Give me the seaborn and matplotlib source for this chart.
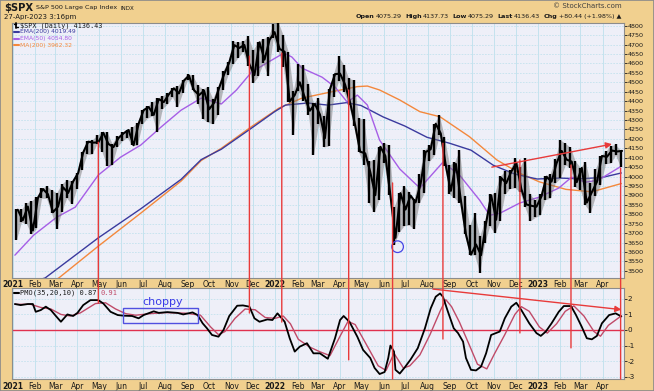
import numpy as np
import pandas as pd
import matplotlib
matplotlib.use("Agg")
import matplotlib.pyplot as plt
import matplotlib.dates as mdates
from matplotlib.patches import Rectangle, ConnectionPatch
import seaborn as sns

# ---------------- data ----------------
# weekly S&P 500 bars (week ending Fridays, 2021-01-08 .. 2023-04-28)
week_start = "2021-01-08"
close = [3824, 3768, 3841, 3714, 3886, 3934, 3906, 3811, 3841, 3943, 3913, 3974, 4019, 4128, 4185, 4180,
         4181, 4232, 4173, 4156, 4204, 4229, 4247, 4166, 4280, 4352, 4369, 4327, 4411, 4395, 4436, 4468,
         4441, 4509, 4535, 4458, 4432, 4455, 4357, 4391, 4471, 4544, 4605, 4697, 4682, 4698, 4595, 4538,
         4712, 4620, 4725, 4766,
         4677, 4662, 4398, 4432, 4500, 4419, 4349, 4385, 4329, 4204, 4463, 4543, 4546, 4488, 4392, 4272,
         4132, 4123, 4024, 3901, 4158, 4109, 3901, 3675, 3912, 3825, 3899, 3863, 3962, 4130, 4145, 4280,
         4228, 4058, 3924, 4067, 3873, 3693, 3586, 3640, 3583, 3753, 3901, 3771, 3993, 3965, 4026, 4072,
         3934, 3852, 3845, 3840,
         3895, 3999, 3973, 4071, 4136, 4090, 4079, 3970, 4046, 3862, 3917, 3971, 4109, 4105, 4138, 4133, 4136]
high = [3827, 3826, 3861, 3870, 3894, 3937, 3950, 3929, 3914, 3960, 3983, 3978, 4021, 4129, 4191, 4194,
        4218, 4238, 4238, 4175, 4213, 4234, 4249, 4262, 4286, 4355, 4372, 4393, 4415, 4429, 4441, 4470,
        4480, 4513, 4546, 4537, 4484, 4465, 4476, 4413, 4475, 4559, 4608, 4718, 4712, 4717, 4744, 4672,
        4713, 4731, 4741, 4808,
        4819, 4749, 4662, 4454, 4595, 4590, 4489, 4390, 4416, 4320, 4466, 4546, 4637, 4594, 4521, 4513,
        4308, 4307, 4081, 4090, 4158, 4178, 4168, 3838, 3913, 3950, 3918, 3880, 4013, 4140, 4167, 4280,
        4325, 4211, 4062, 4076, 4140, 3899, 3741, 3806, 3685, 3762, 3905, 3912, 4001, 4028, 4034, 4100,
        4052, 4101, 3906, 3878,
        3906, 4003, 4015, 4095, 4195, 4176, 4156, 4082, 4048, 4079, 3964, 4039, 4110, 4133, 4164, 4170, 4138]
low = [3663, 3758, 3750, 3694, 3725, 3885, 3884, 3805, 3723, 3812, 3886, 3853, 3935, 4034, 4118, 4118,
       4174, 4132, 4057, 4061, 4156, 4188, 4206, 4165, 4165, 4278, 4309, 4322, 4234, 4360, 4385, 4422,
       4367, 4443, 4513, 4457, 4385, 4306, 4288, 4279, 4329, 4459, 4537, 4595, 4630, 4663, 4585, 4495,
       4531, 4600, 4531, 4733,
       4662, 4582, 4396, 4222, 4453, 4402, 4327, 4115, 4279, 4157, 4161, 4424, 4507, 4450, 4381, 4267,
       4129, 4062, 3859, 3810, 3875, 4074, 3900, 3637, 3705, 3739, 3742, 3722, 3860, 3913, 4080, 4113,
       4218, 4057, 3906, 3886, 3861, 3693, 3584, 3584, 3491, 3647, 3738, 3698, 3764, 3906, 3936, 3940,
       3918, 3838, 3764, 3783,
       3794, 3877, 3885, 3965, 3990, 4061, 4047, 3943, 3928, 3847, 3809, 3896, 3955, 4068, 4071, 4114, 4049]

ema200_dates = ["2021-01-04", "2021-02-15", "2021-04-30", "2021-06-28", "2021-08-23", "2021-09-20",
                "2021-10-18", "2021-11-29", "2021-12-31", "2022-01-15", "2022-02-15", "2022-03-15",
                "2022-04-10", "2022-04-30", "2022-05-31", "2022-06-30", "2022-07-31", "2022-08-31",
                "2022-09-30", "2022-10-31", "2022-11-30", "2022-12-31", "2023-01-31", "2023-02-28",
                "2023-03-31", "2023-04-27"]
ema200_vals = [3415, 3462, 3675, 3829, 3985, 4090, 4145, 4257, 4344, 4379, 4390, 4379,
               4392, 4377, 4316, 4268, 4208, 4177, 4140, 4060, 4013, 3987, 3992, 3988, 3995, 4019]

ema50_dates = ["2021-01-04", "2021-01-30", "2021-03-03", "2021-03-29", "2021-04-30", "2021-05-31",
               "2021-06-28", "2021-07-26", "2021-08-23", "2021-09-20", "2021-10-18", "2021-11-08",
               "2021-11-29", "2021-12-20", "2022-01-13", "2022-01-24", "2022-02-07", "2022-03-07",
               "2022-03-25", "2022-04-11", "2022-04-25", "2022-05-09", "2022-05-26", "2022-06-23",
               "2022-07-21", "2022-08-22", "2022-09-14", "2022-10-12", "2022-10-26", "2022-11-09",
               "2022-12-07", "2023-01-03", "2023-01-30", "2023-02-17", "2023-03-08", "2023-03-26",
               "2023-04-27"]
ema50_vals = [3583, 3689, 3784, 3838, 4008, 4103, 4167, 4262, 4352, 4416, 4385, 4459,
              4554, 4602, 4655, 4634, 4575, 4527, 4475, 4395, 4432, 4379, 4193, 4040,
              3939, 4076, 4008, 3875, 3795, 3805, 3860, 3891, 3939, 3997, 3970, 3981, 4055]

ma200_dates = ["2021-01-04", "2021-03-06", "2021-04-30", "2021-06-28", "2021-08-23", "2021-09-20",
               "2021-10-18", "2021-11-29", "2022-01-06", "2022-02-07", "2022-03-21", "2022-04-25",
               "2022-05-09", "2022-05-26", "2022-06-23", "2022-07-21", "2022-08-18", "2022-09-28",
               "2022-11-05", "2022-12-07", "2023-01-03", "2023-02-09", "2023-03-17", "2023-04-27"]
ma200_vals = [3330, 3462, 3631, 3806, 3976, 4085, 4150, 4265, 4363, 4416, 4450, 4477,
              4480, 4459, 4406, 4344, 4317, 4211, 4088, 4017, 3972, 3932, 3919, 3963]

pmo_dates = ["2021-01-04", "2021-01-12", "2021-01-22", "2021-01-29", "2021-02-02", "2021-02-09",
             "2021-02-16", "2021-02-23", "2021-03-02", "2021-03-09", "2021-03-18", "2021-03-26",
             "2021-04-01", "2021-04-09", "2021-04-19", "2021-04-30", "2021-05-07", "2021-05-17",
             "2021-05-27", "2021-06-04", "2021-06-16", "2021-06-25", "2021-07-02", "2021-07-16",
             "2021-07-23", "2021-08-04", "2021-08-18", "2021-08-26", "2021-09-08", "2021-09-15",
             "2021-09-22", "2021-09-28", "2021-10-05", "2021-10-14", "2021-10-21", "2021-10-29",
             "2021-11-09", "2021-11-17", "2021-11-26", "2021-12-03", "2021-12-10", "2021-12-21",
             "2021-12-28", "2022-01-04", "2022-01-10", "2022-01-14", "2022-01-21", "2022-01-28",
             "2022-02-04", "2022-02-14", "2022-02-23", "2022-03-04", "2022-03-15", "2022-03-25",
             "2022-04-01", "2022-04-06", "2022-04-14", "2022-04-25", "2022-05-03", "2022-05-13",
             "2022-05-19", "2022-05-26", "2022-06-02", "2022-06-07", "2022-06-10", "2022-06-15",
             "2022-06-17", "2022-06-23", "2022-06-30", "2022-07-08", "2022-07-18", "2022-07-28",
             "2022-08-05", "2022-08-12", "2022-08-18", "2022-08-22", "2022-08-29", "2022-09-06",
             "2022-09-12", "2022-09-19", "2022-09-23", "2022-09-30", "2022-10-07", "2022-10-14",
             "2022-10-21", "2022-10-28", "2022-11-09", "2022-11-16", "2022-11-25", "2022-12-02",
             "2022-12-09", "2022-12-20", "2022-12-30", "2023-01-05", "2023-01-12", "2023-01-20",
             "2023-01-30", "2023-02-06", "2023-02-16", "2023-02-23", "2023-03-03", "2023-03-10",
             "2023-03-17", "2023-03-24", "2023-03-31", "2023-04-10", "2023-04-19", "2023-04-27"]
pmo_vals = [1.67, 1.60, 1.67, 1.67, 1.17, 1.28, 1.50, 1.28, 0.90, 0.53, 1.00, 0.90,
            1.10, 1.60, 1.92, 1.92, 1.70, 1.17, 0.96, 0.92, 0.90, 0.75, 0.96, 1.20,
            1.10, 1.15, 1.10, 1.00, 1.13, 0.96, 0.43, 0.11, -0.32, -0.43, 0.00, 0.90,
            1.56, 1.58, 1.50, 0.75, 0.53, 0.68, 0.64, 1.07, 0.75, 0.53, -0.53, -1.39,
            -1.07, -0.85, -1.50, -1.50, -1.85, -0.53, 0.64, 0.90, 0.53, -0.43, -1.28, -1.80,
            -2.44, -2.83, -2.70, -1.80, -1.00, -1.39, -2.56, -2.80, -2.40, -1.90, -1.17, 0.11,
            1.39, 2.14, 2.35, 2.14, 1.17, 0.11, -0.20, -0.75, -1.80, -2.56, -2.60, -2.35,
            -1.50, -0.32, -0.10, 0.75, 1.50, 1.75, 1.28, 0.43, -0.20, -0.38, -0.10, 0.43,
            1.17, 1.54, 1.54, 0.96, 0.20, -0.53, -0.60, -0.38, 0.43, 0.96, 1.07, 0.87]

signal_dates = ["2021-01-04", "2021-01-26", "2021-02-09", "2021-02-23", "2021-03-09", "2021-03-22",
                "2021-04-05", "2021-04-26", "2021-05-10", "2021-05-24", "2021-06-07", "2021-06-21",
                "2021-07-11", "2021-08-01", "2021-08-29", "2021-09-19", "2021-10-03", "2021-10-14",
                "2021-10-23", "2021-11-06", "2021-11-20", "2021-12-04", "2021-12-18", "2022-01-01",
                "2022-01-12", "2022-01-22", "2022-02-02", "2022-02-18", "2022-03-04", "2022-03-18",
                "2022-04-01", "2022-04-12", "2022-04-22", "2022-05-06", "2022-05-24", "2022-06-04",
                "2022-06-15", "2022-06-28", "2022-07-07", "2022-07-21", "2022-08-04", "2022-08-18",
                "2022-08-26", "2022-09-03", "2022-09-14", "2022-09-28", "2022-10-09", "2022-10-22",
                "2022-11-02", "2022-11-16", "2022-11-30", "2022-12-09", "2022-12-20", "2023-01-03",
                "2023-01-14", "2023-01-27", "2023-02-08", "2023-02-20", "2023-03-06", "2023-03-20",
                "2023-03-29", "2023-04-09", "2023-04-27"]
signal_vals = [1.65, 1.65, 1.45, 1.35, 1.00, 0.90, 1.10, 1.70, 1.75, 1.35, 1.05, 0.95,
               1.05, 1.12, 1.08, 0.95, 0.20, -0.30, -0.10, 0.75, 1.35, 1.30, 0.80, 0.75,
               0.90, 0.40, -0.60, -1.10, -1.40, -1.65, -0.40, 0.55, 0.35, -0.80, -2.30, -2.60,
               -1.50, -2.45, -2.30, -1.60, -0.30, 1.20, 1.95, 1.50, 0.50, -1.00, -2.20, -2.50,
               -1.50, -0.30, 1.00, 1.50, 1.20, 0.20, -0.20, 0.40, 1.20, 1.55, 0.90, -0.10,
               -0.40, 0.30, 0.91]

# annotation points: (date, price) -> (date, pmo)
vline_dates = ["2021-04-30", "2021-11-26", "2022-01-10", "2022-04-13", "2022-06-13",
               "2022-08-22", "2022-12-07", "2023-02-16", "2023-04-26"]
vline_price = [4182, 4639, 4655, 4459, 3966, 4177, 4088, 4061, 4045]
vline_pmo = [1.75, 1.09, 0.51, -1.92, -3.15, -0.58, -0.19, -1.15, -3.15]
price_arrow = [("2022-10-29", 4050), ("2023-04-14", 4172)]
pmo_arrow = [("2022-08-08", 2.63), ("2023-04-27", 1.31)]
circle_pt = ("2022-06-20", 3628)
choppy_box = [("2021-06-03", 0.45), ("2021-09-15", 1.41)]

# ---------------- style ----------------
TAN = '#f1d08f'
PANEL = '#eeeff8'
GRID = '#c4e2ee'
RED = '#e83a3a'
NAVY = '#3a3a9e'
PURPLE = '#a65ee6'
ORANGE = '#f4883c'
SIGNAL = '#c04a68'
BLUE = '#4646e6'
TXT = '#1a1a1a'

sns.set_theme(style="white")
plt.rcParams['font.family'] = ['DejaVu Sans']
plt.rcParams['axes.unicode_minus'] = False

W, H = 654, 391
fig = plt.figure(figsize=(6.54, 3.91), dpi=100)
fig.patch.set_facecolor(TAN)


def fx(px):
    return px / W


def fy(py):
    return 1 - py / H


L, R = 12, 623.5
ax1 = fig.add_axes([fx(L), fy(278), (R - L) / W, (278 - 22.5) / H])
ax2 = fig.add_axes([fx(L), fy(379), (R - L) / W, (379 - 288.3) / H])

xmin, xmax = pd.Timestamp('2020-12-31'), pd.Timestamp('2023-04-30')
months = pd.date_range('2021-01-01', '2023-04-01', freq='MS')
mlabels = [str(m.year) if m.month == 1 else m.strftime('%b') for m in months]

for ax in (ax1, ax2):
    ax.set_facecolor(PANEL)
    ax.set_xlim(xmin, xmax)
    ax.set_xticks(months)
    ax.set_xticklabels(mlabels)
    for lbl, m in zip(ax.get_xticklabels(), months):
        if m.month == 1:
            lbl.set_fontweight('bold')
    ax.yaxis.tick_right()
    ax.grid(True, axis='x', color=GRID, lw=0.7, ls='-')
    ax.grid(True, axis='y', color=GRID, lw=0.6, ls=(0, (2, 1.5)))
    ax.set_axisbelow(True)
    for sp in ax.spines.values():
        sp.set_color('#8c8c8c')
        sp.set_linewidth(0.8)

ax1.tick_params(axis='x', length=0, pad=1.3, labelsize=5.5, colors=TXT)
ax2.tick_params(axis='x', length=0, pad=2.2, labelsize=5.5, colors=TXT)
ax1.tick_params(axis='y', length=2, width=0.6, pad=0.8, labelsize=4.6, colors=TXT, right=True)
ax2.tick_params(axis='y', length=2, width=0.6, pad=0.8, labelsize=5.2, colors=TXT, right=True)

# ---------------- main price panel ----------------
wk = pd.date_range(week_start, periods=len(close), freq='W-FRI')
pdf = pd.DataFrame({'date': wk, 'close': close, 'high': high, 'low': low})
mid = pdf['date'] - pd.Timedelta(days=2)
ax1.fill_between(mid, pdf['low'], pdf['high'], color='#6e6e6e', alpha=0.45, lw=0, zorder=3.5)
ax1.vlines(mid, pdf['low'], pdf['high'], color='black', lw=1.7, zorder=4)
sns.lineplot(data=pdf, x='date', y='close', ax=ax1, color='black', lw=1.5, zorder=4)

for d, v, c in ((ma200_dates, ma200_vals, ORANGE), (ema200_dates, ema200_vals, NAVY),
                (ema50_dates, ema50_vals, PURPLE)):
    sns.lineplot(x=pd.to_datetime(d), y=v, ax=ax1, color=c, lw=1.0, zorder=3)

ax1.set_ylim(3462, 4817)
ax1.set_yticks(np.arange(3500, 4801, 50))
ax1.set_xlabel('')
ax1.set_ylabel('')

# ---------------- PMO panel ----------------
sns.lineplot(x=pd.to_datetime(signal_dates), y=signal_vals, ax=ax2, color=SIGNAL, lw=1.0, zorder=3)
sns.lineplot(x=pd.to_datetime(pmo_dates), y=pmo_vals, ax=ax2, color='black', lw=1.3, zorder=4)
ax2.axhline(0, color='#e0304e', lw=1.0, zorder=2)
ax2.set_ylim(-3.15, 2.68)
ax2.set_yticks(np.arange(-3, 3, 1))
ax2.set_xlabel('')
ax2.set_ylabel('')

# choppy box
(b0d, b0v), (b1d, b1v) = choppy_box
x0 = mdates.date2num(pd.Timestamp(b0d))
x1 = mdates.date2num(pd.Timestamp(b1d))
ax2.add_patch(Rectangle((x0, b0v), x1 - x0, b1v - b0v, fill=False, ec='#5050e0', lw=1.0, zorder=5))
ax2.text(pd.Timestamp('2021-07-29'), 1.78, 'choppy', color='#3a3ae8', fontsize=8,
         ha='center', va='center', zorder=6)

# ---------------- annotations ----------------
for d, pv, mv in zip(vline_dates, vline_price, vline_pmo):
    xd = mdates.date2num(pd.Timestamp(d))
    cp = ConnectionPatch(xyA=(xd, pv), coordsA=ax1.transData, xyB=(xd, mv), coordsB=ax2.transData,
                         color=RED, lw=1.0, zorder=10)
    fig.add_artist(cp)

(pa_d0, pa_v0), (pa_d1, pa_v1) = price_arrow
ax1.annotate('', xy=(pd.Timestamp(pa_d1), pa_v1), xytext=(pd.Timestamp(pa_d0), pa_v0),
             arrowprops=dict(arrowstyle='-|>', color=RED, lw=1.0, mutation_scale=9,
                             shrinkA=0, shrinkB=0), zorder=8)
(qa_d0, qa_v0), (qa_d1, qa_v1) = pmo_arrow
ax2.annotate('', xy=(pd.Timestamp(qa_d1), qa_v1), xytext=(pd.Timestamp(qa_d0), qa_v0),
             arrowprops=dict(arrowstyle='-|>', color=RED, lw=1.0, mutation_scale=9,
                             shrinkA=0, shrinkB=0), zorder=8, annotation_clip=False)
ax1.scatter([pd.Timestamp(circle_pt[0])], [circle_pt[1]], s=70, facecolors='none',
            edgecolors=BLUE, linewidths=0.9, zorder=9)

# ---------------- texts ----------------
renderer = fig.canvas.get_renderer()


def runs(x_px, y_px, parts, size, align='left', family='DejaVu Sans'):
    texts = []
    widths = []
    for s, weight, color, gap, sz in parts:
        t = fig.text(0, fy(y_px), s, fontsize=sz or size, fontweight=weight, color=color,
                     ha='left', va='center', family=family)
        texts.append((t, gap))
        widths.append(t.get_window_extent(renderer=renderer).width + gap)
    x = x_px - sum(widths) if align == 'right' else x_px
    for (t, gap), w in zip(texts, widths):
        t.set_x(fx(x))
        x += w


runs(4, 8, [('$SPX', 'bold', TXT, 3, 7.2), ('S&P 500 Large Cap Index', 'normal', TXT, 3, 4.6),
            ('INDX', 'normal', TXT, 0, 4.0)], 7.2)
fig.text(fx(4), fy(16.5), '27-Apr-2023 3:16pm', fontsize=5.0, color=TXT, ha='left', va='center')
fig.text(fx(622), fy(5.5), '\u00a9 StockCharts.com', fontsize=5.0, color='#404040', ha='right', va='center')

runs(621, 16.5, [('Open', 'bold', TXT, 1.5, None), ('4075.29', 'normal', TXT, 3, None),
                 ('High', 'bold', TXT, 1.5, None), ('4137.73', 'normal', TXT, 3, None),
                 ('Low', 'bold', TXT, 1.5, None), ('4075.29', 'normal', TXT, 3, None),
                 ('Last', 'bold', TXT, 1.5, None), ('4136.43', 'normal', TXT, 3, None),
                 ('Chg', 'bold', TXT, 1.5, None), ('+80.44 (+1.98%) \u25b2', 'normal', TXT, 0, None)],
     4.6, align='right')

leg = [('EMA(200) 4019.49', NAVY, 32), ('EMA(50) 4054.80', PURPLE, 38.5), ('MA(200) 3962.32', ORANGE, 45)]
fig.add_artist(plt.Line2D([fx(15.5), fx(15.5)], [fy(22.8), fy(28)], color='black', lw=1.3,
                          transform=fig.transFigure))
fig.add_artist(plt.Line2D([fx(13.5), fx(15.5)], [fy(24), fy(24)], color='black', lw=1.0,
                          transform=fig.transFigure))
fig.add_artist(plt.Line2D([fx(15.5), fx(17.5)], [fy(26.5), fy(26.5)], color='black', lw=1.0,
                          transform=fig.transFigure))
fig.text(fx(20), fy(25.3), '$SPX (Daily) 4136.43', fontsize=4.9, color=TXT, ha='left', va='center',
         family='DejaVu Sans Mono')
for s, c, y in leg:
    fig.add_artist(plt.Line2D([fx(13.5), fx(18.5)], [fy(y), fy(y)], color=c, lw=1.5,
                              transform=fig.transFigure))
    fig.text(fx(20), fy(y), s, fontsize=4.3, color=c, ha='left', va='center')

fig.add_artist(plt.Line2D([fx(13.5), fx(18.5)], [fy(293), fy(293)], color='black', lw=1.5,
                          transform=fig.transFigure))
runs(20, 293, [('PMO(35,20,10) 0.87', 'normal', TXT, 4, None), ('0.91', 'normal', SIGNAL, 0, None)], 5.0,
     family='DejaVu Sans Mono')

fig.add_artist(Rectangle((0, 0), 1, 1, transform=fig.transFigure, fill=False, ec='#8a8a8a', lw=1.2))

fig.savefig('out.png', dpi=100, facecolor=fig.get_facecolor())
